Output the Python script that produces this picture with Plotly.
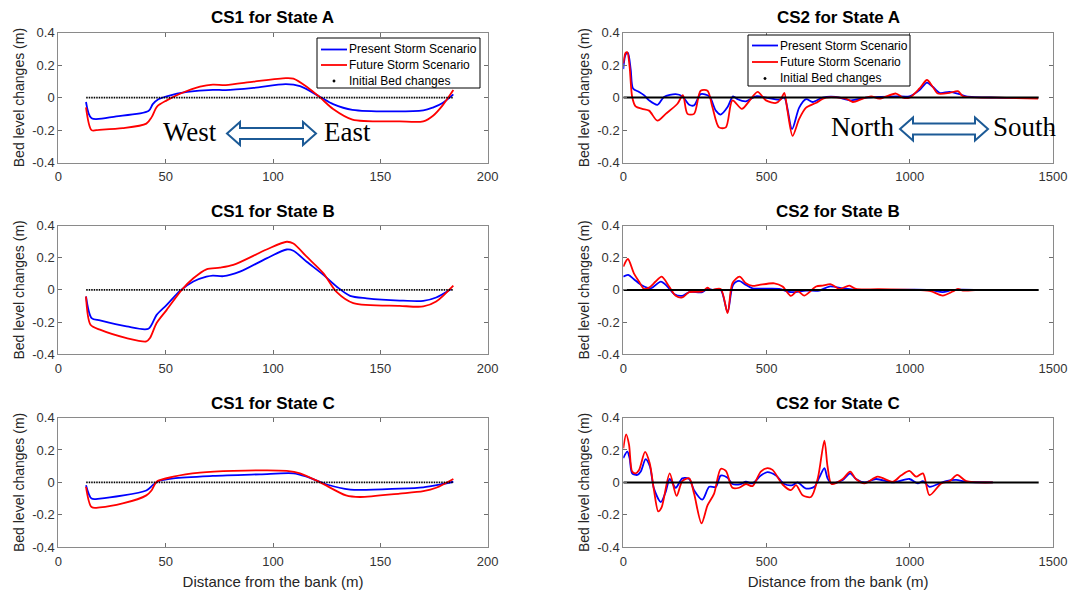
import plotly.graph_objects as go

# ---------------- DATA ----------------
# CS1 (distance 0-200 m)
cs1A_pres_x = [12.9, 15.5, 27, 42, 44, 46.6, 50.5, 60, 72, 78, 91, 106, 112.6, 122, 128, 137, 170, 174.7, 179, 184]
cs1A_pres_y = [-0.027, -0.127, -0.115, -0.083, -0.04, -0.01, 0.008, 0.035, 0.048, 0.046, 0.06, 0.083, 0.07, 0.004, -0.04, -0.075, -0.079, -0.06, -0.033, 0.02]
cs1A_fut_x = [12.9, 15.5, 19, 30, 41, 43.5, 46, 50.5, 57, 66, 72, 78, 91, 106, 109.5, 115.7, 122, 128, 137, 159, 170, 174.7, 179, 184]
cs1A_fut_y = [-0.06, -0.2, -0.198, -0.188, -0.16, -0.12, -0.055, -0.017, 0.025, 0.067, 0.08, 0.077, 0.098, 0.12, 0.117, 0.067, 0.0, -0.07, -0.135, -0.146, -0.146, -0.11, -0.048, 0.046]

cs1B_pres_x = [12.9, 15.5, 19.4, 31.8, 42, 45.8, 50.5, 56.7, 62.9, 69, 72, 76.9, 84.6, 97, 106.4, 109.5, 115.7, 123.5, 129.7, 135.9, 143.6, 159, 170, 176, 183]
cs1B_pres_y = [-0.041, -0.175, -0.19, -0.227, -0.241, -0.155, -0.093, -0.006, 0.052, 0.082, 0.089, 0.085, 0.113, 0.196, 0.251, 0.243, 0.175, 0.093, 0.02, -0.037, -0.052, -0.066, -0.068, -0.047, 0.006]
cs1B_fut_x = [12.9, 15, 19.4, 31.8, 41, 42.7, 45.8, 50.5, 57.5, 62.9, 69, 75.3, 81.5, 97, 106.4, 109.5, 115.7, 123.5, 129.7, 137.4, 159, 170, 176, 184]
cs1B_fut_y = [-0.041, -0.216, -0.247, -0.299, -0.32, -0.299, -0.206, -0.124, 0.0, 0.072, 0.128, 0.138, 0.155, 0.251, 0.299, 0.288, 0.206, 0.103, -0.014, -0.082, -0.099, -0.103, -0.072, 0.027]

cs1C_pres_x = [12.9, 15.5, 19.4, 41, 44, 46.6, 53.6, 72, 94, 109.5, 115.7, 125, 136, 159, 170, 177.8, 184]
cs1C_pres_y = [-0.017, -0.1, -0.1, -0.05, -0.017, 0.008, 0.025, 0.04, 0.05, 0.056, 0.035, -0.013, -0.044, -0.038, -0.03, -0.013, 0.004]
cs1C_fut_x = [12.9, 15.5, 19.4, 30, 41, 43.5, 45.8, 53.6, 66, 81.5, 106.4, 112.6, 122, 134, 140.5, 159, 170, 176, 184]
cs1C_fut_y = [-0.027, -0.152, -0.154, -0.13, -0.08, -0.048, 0.004, 0.035, 0.06, 0.071, 0.071, 0.056, 0.0, -0.08, -0.09, -0.069, -0.054, -0.033, 0.021]

cs1_init_x = [13, 184]
cs1_init_y = [0, 0]

# CS2 (distance 0-1500 m)
cs2A_pres_x = [0, 8, 16, 26, 34, 55, 72, 90, 119, 142, 183, 206, 230, 247, 270, 300, 323, 340, 364, 383, 399, 428, 463, 498, 544, 562, 589, 614, 638, 661, 696, 742, 795, 847, 952, 999, 1034, 1060, 1080, 1104, 1139, 1174, 1197, 1302, 1448]
cs2A_pres_y = [0.175, 0.265, 0.275, 0.17, 0.056, 0.035, 0.015, -0.017, -0.044, 0.004, 0.021, 0.008, -0.044, -0.048, 0.021, 0.008, -0.08, -0.104, -0.058, 0.008, -0.01, -0.023, 0.008, 0.0, -0.013, 0.0, -0.194, -0.062, -0.01, -0.027, 0.0, 0.004, -0.017, 0.0, 0.008, 0.008, 0.046, 0.092, 0.067, 0.029, 0.035, 0.021, 0.008, 0.0, -0.002]
cs2A_fut_x = [0, 8, 14, 22, 31, 43, 66, 90, 119, 148, 189, 208, 224, 247, 270, 294, 311, 334, 358, 381, 414, 439, 469, 498, 533, 550, 562, 573, 591, 614, 638, 672, 707, 777, 801, 836, 865, 894, 952, 976, 999, 1034, 1060, 1080, 1098, 1139, 1168, 1186, 1302, 1448]
cs2A_fut_y = [0.21, 0.275, 0.279, 0.19, 0.004, -0.054, -0.069, -0.08, -0.142, -0.1, -0.038, 0.015, -0.1, -0.1, 0.042, 0.042, -0.058, -0.183, -0.183, -0.017, -0.069, -0.023, 0.035, -0.017, -0.033, -0.01, 0.029, -0.08, -0.235, -0.131, -0.062, -0.033, 0.0, -0.006, -0.027, -0.006, 0.008, -0.006, 0.025, 0.0, 0.0, 0.056, 0.108, 0.067, 0.025, 0.029, 0.04, 0.008, 0.0, -0.006]

cs2B_pres_x = [0, 17, 37, 66, 96, 131, 154, 177, 206, 230, 276, 294, 311, 340, 364, 383, 404, 428, 451, 544, 585, 638, 684, 719, 766, 812, 1069, 1115, 1150, 1244]
cs2B_pres_y = [0.082, 0.093, 0.066, 0.027, 0.01, 0.052, 0.021, -0.025, -0.037, -0.014, -0.014, 0.006, 0.0, 0.0, -0.138, 0.031, 0.056, 0.031, 0.01, 0.006, -0.014, -0.004, -0.004, 0.021, 0.01, 0.0, 0.0, -0.014, 0.0, 0.0]
cs2B_fut_x = [0, 16, 37, 55, 72, 90, 113, 134, 160, 183, 206, 230, 276, 294, 305, 340, 364, 381, 406, 428, 451, 475, 527, 556, 585, 608, 632, 673, 696, 725, 754, 789, 812, 894, 1069, 1115, 1150, 1168, 1186, 1244]
cs2B_fut_y = [0.144, 0.192, 0.103, 0.052, 0.006, 0.014, 0.052, 0.082, 0.021, -0.037, -0.047, -0.014, -0.01, 0.014, 0.0, 0.006, -0.144, 0.041, 0.082, 0.041, 0.025, 0.031, 0.041, 0.021, -0.037, -0.006, -0.035, 0.021, 0.027, 0.035, 0.006, 0.027, 0.006, 0.004, -0.006, -0.035, -0.01, 0.006, -0.004, 0.0]

cs2C_pres_x = [0, 14, 22, 31, 49, 61, 78, 93, 107, 131, 148, 162, 183, 206, 230, 247, 276, 300, 323, 340, 364, 381, 410, 428, 451, 480, 503, 533, 562, 591, 608, 638, 667, 684, 702, 713, 727, 766, 792, 812, 842, 882, 941, 999, 1028, 1046, 1069, 1104, 1127, 1162, 1197, 1290]
cs2C_pres_y = [0.15, 0.19, 0.15, 0.056, 0.046, 0.067, 0.144, 0.098, -0.038, -0.121, -0.058, 0.021, -0.033, 0.025, 0.021, -0.048, -0.106, -0.027, -0.027, 0.042, 0.029, -0.01, -0.01, 0.004, -0.006, 0.042, 0.063, 0.042, -0.01, -0.017, 0.0, -0.038, -0.027, 0.029, 0.088, 0.025, -0.006, 0.015, 0.056, 0.021, 0.0, 0.021, 0.0, 0.021, -0.006, 0.008, -0.027, -0.006, 0.008, 0.015, 0.004, 0.0]
cs2C_fut_x = [0, 10, 20, 31, 43, 55, 76, 92, 107, 122, 134, 162, 186, 206, 230, 247, 273, 294, 317, 340, 358, 381, 404, 428, 451, 480, 503, 521, 556, 585, 603, 626, 655, 679, 702, 713, 727, 766, 792, 812, 842, 888, 941, 969, 999, 1022, 1046, 1069, 1110, 1139, 1166, 1197, 1290]
cs2C_fut_y = [0.21, 0.296, 0.233, 0.067, 0.056, 0.077, 0.188, 0.119, -0.048, -0.179, -0.152, 0.056, -0.083, 0.008, 0.025, -0.069, -0.252, -0.142, -0.069, 0.083, 0.071, -0.033, -0.033, -0.01, -0.023, 0.067, 0.088, 0.077, -0.013, -0.048, -0.017, -0.079, -0.09, 0.025, 0.258, 0.098, -0.01, 0.021, 0.067, 0.021, -0.006, 0.035, 0.004, 0.042, 0.071, 0.035, 0.056, -0.079, -0.006, 0.008, 0.046, 0.008, 0.0]

cs2_init_x = [0, 1450]
cs2_init_y = [0, 0]

titles = ["CS1 for State A", "CS2 for State A", "CS1 for State B", "CS2 for State B",
          "CS1 for State C", "CS2 for State C"]
series_names = ["Present Storm Scenario", "Future Storm Scenario", "Initial Bed changes"]
y_ticks = [-0.4, -0.2, 0, 0.2, 0.4]
y_ticktext = ["-0.4", "-0.2", "0", "0.2", "0.4"]
x_title = "Distance from the bank (m)"
y_title = "Bed level changes (m)"

# ---------------- LAYOUT GEOMETRY ----------------
# the page body margin is removed (post_script), so the figure fills the window
W, H = 1069, 590
def px(x):
    return x / W
def py(y):
    return 1 - y / H

xdom = {"L": [px(58.3), px(487.7)], "R": [px(623.3), px(1053)]}
rows_px = [(32.5, 162.7), (225.5, 354.3), (417.5, 547.3)]
ydom = [[py(b), py(t)] for t, b in rows_px]

BLUE = "#0000ff"
RED = "#ff0000"
FONT = "Liberation Sans"
SERIF = "Liberation Serif"

fig = go.Figure()

panels = [
    (0, "L", (cs1A_pres_x, cs1A_pres_y), (cs1A_fut_x, cs1A_fut_y)),
    (0, "R", (cs2A_pres_x, cs2A_pres_y), (cs2A_fut_x, cs2A_fut_y)),
    (1, "L", (cs1B_pres_x, cs1B_pres_y), (cs1B_fut_x, cs1B_fut_y)),
    (1, "R", (cs2B_pres_x, cs2B_pres_y), (cs2B_fut_x, cs2B_fut_y)),
    (2, "L", (cs1C_pres_x, cs1C_pres_y), (cs1C_fut_x, cs1C_fut_y)),
    (2, "R", (cs2C_pres_x, cs2C_pres_y), (cs2C_fut_x, cs2C_fut_y)),
]

axis_common = dict(
    showline=True, linecolor="#8a8a8a", linewidth=1, mirror="ticks",
    ticks="inside", ticklen=4, tickcolor="#6e6e6e", tickwidth=1,
    showgrid=False, zeroline=False, automargin=False,
    tickfont=dict(family=FONT, size=13, color="#333333"),
)

for i, (row, side, pres, fut) in enumerate(panels):
    n = i + 1
    xa = "x" if n == 1 else f"x{n}"
    ya = "y" if n == 1 else f"y{n}"
    fig.add_trace(go.Scatter(x=pres[0], y=pres[1], mode="lines", name=series_names[0],
                             line=dict(color=BLUE, width=1.8, shape="spline", smoothing=0.8),
                             xaxis=xa, yaxis=ya, showlegend=False))
    fig.add_trace(go.Scatter(x=fut[0], y=fut[1], mode="lines", name=series_names[1],
                             line=dict(color=RED, width=1.8, shape="spline", smoothing=0.8),
                             xaxis=xa, yaxis=ya, showlegend=False))
    if side == "L":
        fig.add_trace(go.Scatter(x=cs1_init_x, y=cs1_init_y, mode="lines", name=series_names[2],
                                 line=dict(color="black", width=1.8, dash="1.5px,1px"),
                                 xaxis=xa, yaxis=ya, showlegend=False))
    else:
        fig.add_trace(go.Scatter(x=cs2_init_x, y=cs2_init_y, mode="lines", name=series_names[2],
                                 line=dict(color="black", width=2),
                                 xaxis=xa, yaxis=ya, showlegend=False))

    xkey = "xaxis" if n == 1 else f"xaxis{n}"
    ykey = "yaxis" if n == 1 else f"yaxis{n}"
    xcfg = dict(axis_common, domain=xdom[side], anchor=ya, ticklabelstandoff=2)
    if side == "L":
        xcfg.update(range=[0, 200], tickvals=[0, 50, 100, 150, 200])
    else:
        xcfg.update(range=[0, 1500], tickvals=[0, 500, 1000, 1500])
    if row == 2:
        xcfg["title"] = dict(text=x_title, font=dict(family=FONT, size=15, color="#262626"), standoff=11)
    ycfg = dict(axis_common, domain=ydom[row], anchor=xa, range=[-0.4, 0.4],
                tickvals=y_ticks, ticktext=y_ticktext,
                title=dict(text=y_title, font=dict(family=FONT, size=14, color="#262626"), standoff=4))
    fig.layout[xkey] = xcfg
    fig.layout[ykey] = ycfg

annotations = []
shapes = []

# panel titles
for i, (row, side, *_rest) in enumerate(panels):
    cx = (xdom[side][0] + xdom[side][1]) / 2
    top = rows_px[row][0]
    annotations.append(dict(text=f"<b>{titles[i]}</b>", x=cx, y=py(top - 14.5), xref="paper", yref="paper",
                            xanchor="center", yanchor="middle", showarrow=False,
                            font=dict(family=FONT, size=17, color="black")))

# direction labels
for txt, cx, cy in [("West", 189.5, 132), ("East", 347.5, 132), ("North", 862.5, 127), ("South", 1025, 127)]:
    annotations.append(dict(text=txt, x=px(cx), y=py(cy), xref="paper", yref="paper",
                            xanchor="center", yanchor="middle", showarrow=False,
                            font=dict(family=SERIF, size=27, color="black")))

# hollow double arrows
def dbl_arrow(x0, x1, yc, hh=11.5, hs=5.5, L=13):
    pts = [(x0, yc), (x0 + L, yc - hh), (x0 + L, yc - hs), (x1 - L, yc - hs), (x1 - L, yc - hh),
           (x1, yc), (x1 - L, yc + hh), (x1 - L, yc + hs), (x0 + L, yc + hs), (x0 + L, yc + hh)]
    path = "M " + " L ".join(f"{px(a):.5f},{py(b):.5f}" for a, b in pts) + " Z"
    return dict(type="path", path=path, xref="paper", yref="paper",
                line=dict(color="#1c5a96", width=2), fillcolor="white", layer="above")

shapes += [dbl_arrow(227, 316, 133.5), dbl_arrow(900, 988, 129)]

# legends (drawn boxes, MATLAB style)
def legend_box(x0, x1, y0, y1, rows, seg0, seg1, text_x):
    out_s = [dict(type="rect", x0=px(x0), x1=px(x1), y0=py(y1), y1=py(y0), xref="paper", yref="paper",
                  line=dict(color="black", width=1), fillcolor="white", layer="above")]
    out_a = []
    colors = [BLUE, RED, None]
    for (ry, name, col) in zip(rows, series_names, colors):
        if col:
            out_s.append(dict(type="line", x0=px(seg0), x1=px(seg1), y0=py(ry), y1=py(ry),
                              xref="paper", yref="paper", line=dict(color=col, width=1.8), layer="above"))
        else:
            cxm = (seg0 + seg1) / 2
            out_s.append(dict(type="circle", x0=px(cxm - 1.2), x1=px(cxm + 1.2), y0=py(ry + 1.2), y1=py(ry - 1.2),
                              xref="paper", yref="paper", line=dict(color="black", width=0.5),
                              fillcolor="black", layer="above"))
        out_a.append(dict(text=name, x=px(text_x), y=py(ry), xref="paper", yref="paper",
                          xanchor="left", yanchor="middle", showarrow=False,
                          font=dict(family=FONT, size=12, color="black")))
    return out_s, out_a

s1, a1 = legend_box(317, 480, 38, 88, [49.5, 65, 81], 321, 347, 347)
s2, a2 = legend_box(748, 910, 35, 86, [45.5, 62, 78.5], 752, 778, 778)
shapes += s1 + s2
annotations += a1 + a2

fig.update_layout(
    width=W, height=H, margin=dict(l=0, r=0, t=0, b=0),
    plot_bgcolor="white", paper_bgcolor="white",
    showlegend=False, annotations=annotations, shapes=shapes,
)

fig.write_html("out.html", config={"displayModeBar": False},
               post_script="document.body.style.margin='0';document.body.style.overflow='hidden';")
